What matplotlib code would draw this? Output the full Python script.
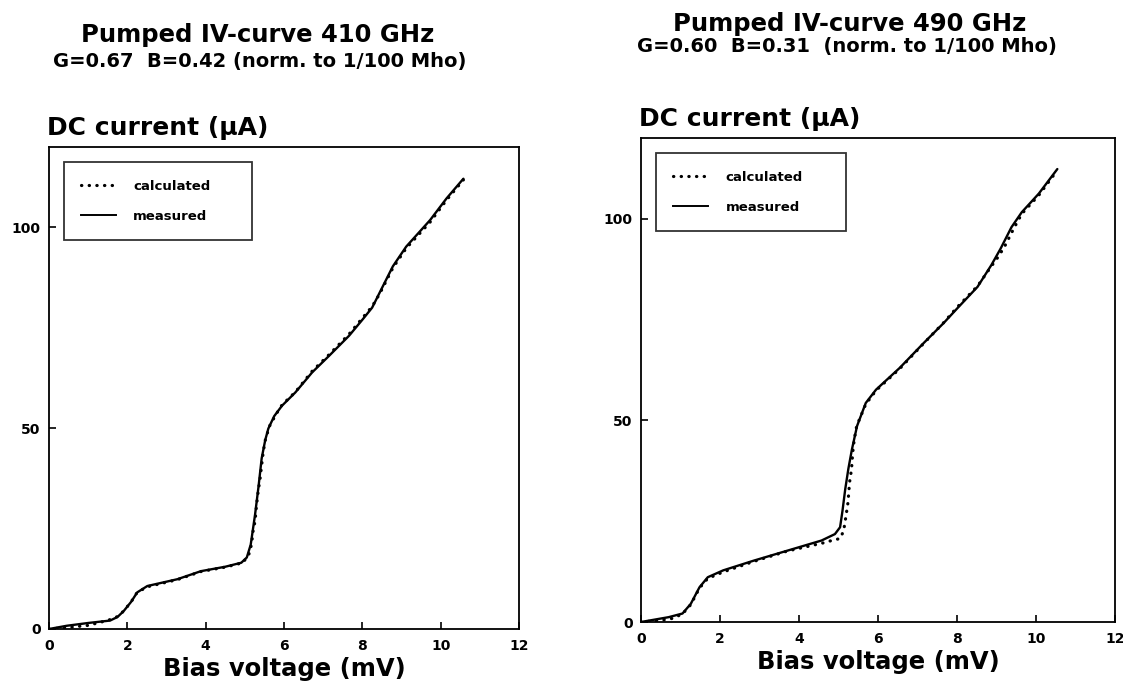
import matplotlib
matplotlib.use("Agg")
import matplotlib.pyplot as plt
from matplotlib.lines import Line2D

plt.rcParams['font.family'] = ['DejaVu Sans']
plt.rcParams['font.weight'] = 'bold'

# ---------------- data ----------------
x_ticks = [0, 2, 4, 6, 8, 10, 12]
y_ticks = [0, 50, 100]

titles = ["Pumped IV-curve 410 GHz", "Pumped IV-curve 490 GHz"]
subtitles = ["G=0.67  B=0.42 (norm. to 1/100 Mho)",
             "G=0.60  B=0.31  (norm. to 1/100 Mho)"]
legend_labels = ["calculated", "measured"]
y_title = "DC current (µA)"
x_title = "Bias voltage (mV)"

left_meas_v = [0, 0.45, 1.0, 1.56, 1.75, 1.91, 2.1, 2.25, 2.51, 3.28, 3.88, 4.5, 4.91,
               5.05, 5.15, 5.26, 5.35, 5.43, 5.52, 5.60, 5.75, 5.95, 6.29, 6.72, 7.15,
               7.66, 8.01, 8.25, 8.44, 8.78, 9.12, 9.73, 10.15, 10.58]
left_meas_i = [0, 0.8, 1.5, 2.1, 3.0, 4.5, 6.8, 9.1, 10.7, 12.4, 14.4, 15.5, 16.5,
               17.8, 21.0, 28.4, 35.5, 42.5, 47.0, 49.9, 53.0, 55.6, 58.9, 63.9, 68.0,
               73.0, 77.1, 80.0, 83.7, 90.3, 95.2, 101.8, 107.2, 112.1]

left_calc_v = [0, 0.5, 1.0, 1.52, 1.75, 1.91, 2.1, 2.25, 2.51, 3.28, 3.88, 4.5, 4.95,
               5.1, 5.17, 5.21, 5.26, 5.30, 5.34, 5.39, 5.43, 5.47, 5.53, 5.64, 5.8,
               5.95, 6.29, 6.72, 7.15, 7.66, 8.01, 8.25, 8.44, 8.78, 9.12, 9.73, 10.15,
               10.58]
left_calc_i = [0, 0.4, 0.9, 2.2, 3.1, 4.5, 6.8, 9.1, 10.5, 12.3, 14.3, 15.4, 16.5,
               18.5, 21.0, 24.3, 26.8, 30.9, 34.2, 37.5, 40.8, 44.1, 47.4, 50.7, 53.5,
               55.8, 59.0, 64.2, 68.3, 73.4, 77.5, 80.3, 83.4, 89.9, 94.8, 101.3, 106.8,
               111.8]

right_meas_v = [0, 0.70, 1.05, 1.26, 1.48, 1.69, 2.08, 2.85, 3.71, 4.57, 4.91, 5.04,
                5.10, 5.17, 5.25, 5.34, 5.47, 5.69, 5.95, 6.55, 7.15, 7.66, 8.01, 8.52,
                8.87, 9.10, 9.38, 9.64, 10.07, 10.54]
right_meas_i = [0, 1.2, 2.1, 4.5, 8.6, 11.1, 12.8, 15.2, 17.7, 20.2, 21.8, 23.5,
                27.5, 32.9, 38.0, 42.8, 48.6, 54.3, 57.6, 63.0, 69.1, 74.1, 77.8, 83.1,
                88.5, 92.5, 97.9, 101.6, 106.2, 112.3]

right_calc_v = [0, 0.5, 0.8, 1.05, 1.26, 1.48, 1.69, 2.08, 2.85, 3.71, 4.61, 4.83,
                5.04, 5.13, 5.19, 5.24, 5.28, 5.33, 5.36, 5.40, 5.46, 5.69, 5.95, 6.55,
                7.15, 7.66, 8.01, 8.52, 8.87, 9.04, 9.20, 9.45, 9.64, 10.07, 10.54]
right_calc_i = [0, 0.4, 0.9, 2.0, 4.3, 8.4, 10.8, 12.4, 15.0, 17.6, 19.6, 20.2,
                20.7, 22.6, 26.3, 29.6, 34.6, 37.9, 42.0, 45.3, 48.6, 54.0, 57.4, 62.8,
                69.0, 74.2, 78.1, 83.3, 88.2, 90.5, 93.0, 97.8, 101.2, 105.8, 112.0]

# ---------------- figure ----------------
W, H = 1123, 698
fig = plt.figure(figsize=(W / 100, H / 100), dpi=100)

def px_axes(left, top, right, bottom):
    return fig.add_axes([left / W, 1 - bottom / H, (right - left) / W, (bottom - top) / H])

axL = px_axes(49, 147, 519, 629)
axR = px_axes(641, 138, 1115, 622)

dot_style = (0, (0.1, 2.3))

panels = [
    (axL, left_meas_v, left_meas_i, left_calc_v, left_calc_i, 135),
    (axR, right_meas_v, right_meas_i, right_calc_v, right_calc_i, 126),
]

for ax, mv, mi, cv, ci, ylab_base in panels:
    ax.plot(cv, ci, color='black', lw=2.3, linestyle=dot_style,
            dash_capstyle='round', label=legend_labels[0])
    ax.plot(mv, mi, color='black', lw=1.7, solid_capstyle='round',
            solid_joinstyle='round', label=legend_labels[1])
    ax.set_xlim(0, 12)
    ax.set_ylim(0, 120)
    ax.set_xticks(x_ticks)
    ax.set_yticks(y_ticks)
    ax.set_xticklabels([str(t) for t in x_ticks], fontsize=10, fontweight='bold')
    ax.set_yticklabels([str(t) for t in y_ticks], fontsize=10, fontweight='bold')
    ax.tick_params(axis='x', direction='in', length=5, width=1.2, pad=7)
    ax.tick_params(axis='y', direction='in', length=5, width=1.2, pad=6)
    for s in ax.spines.values():
        s.set_linewidth(1.3)
    ax.set_xlabel(x_title, fontsize=17.5, fontweight='bold', labelpad=3)
    # y-axis title written above the axes, left aligned
    bbox = ax.get_position()
    ax_h_px = bbox.height * H
    top_px = (1 - bbox.y1) * H
    ax.text(-2 / (bbox.width * W), 1.0 + (top_px - ylab_base) / ax_h_px, y_title,
            transform=ax.transAxes, ha='left', va='baseline',
            fontsize=18, fontweight='bold')
    h_dot = Line2D([], [], color='black', lw=2.3, linestyle=dot_style,
                   dash_capstyle='round')
    h_sol = Line2D([], [], color='black', lw=1.4)
    leg = ax.legend([h_dot, h_sol], legend_labels, loc='upper left',
                    bbox_to_anchor=(0.032, 0.968, 0.40, 0.0), mode='expand',
                    prop={'weight': 'bold', 'size': 9.5},
                    frameon=True, fancybox=False, edgecolor='black',
                    borderpad=1.3, labelspacing=1.3, handlelength=2.65,
                    handletextpad=1.3, borderaxespad=0)
    leg.get_frame().set_linewidth(1.3)

# titles
fig.text(258 / W, 1 - 42 / H, titles[0], ha='center', va='baseline', fontsize=17.5, fontweight='bold')
fig.text(260 / W, 1 - 67 / H, subtitles[0], ha='center', va='baseline', fontsize=14, fontweight='bold')
fig.text(850 / W, 1 - 31 / H, titles[1], ha='center', va='baseline', fontsize=17.5, fontweight='bold')
fig.text(847 / W, 1 - 52 / H, subtitles[1], ha='center', va='baseline', fontsize=14, fontweight='bold')

fig.savefig("out.png", dpi=100, facecolor='white')
